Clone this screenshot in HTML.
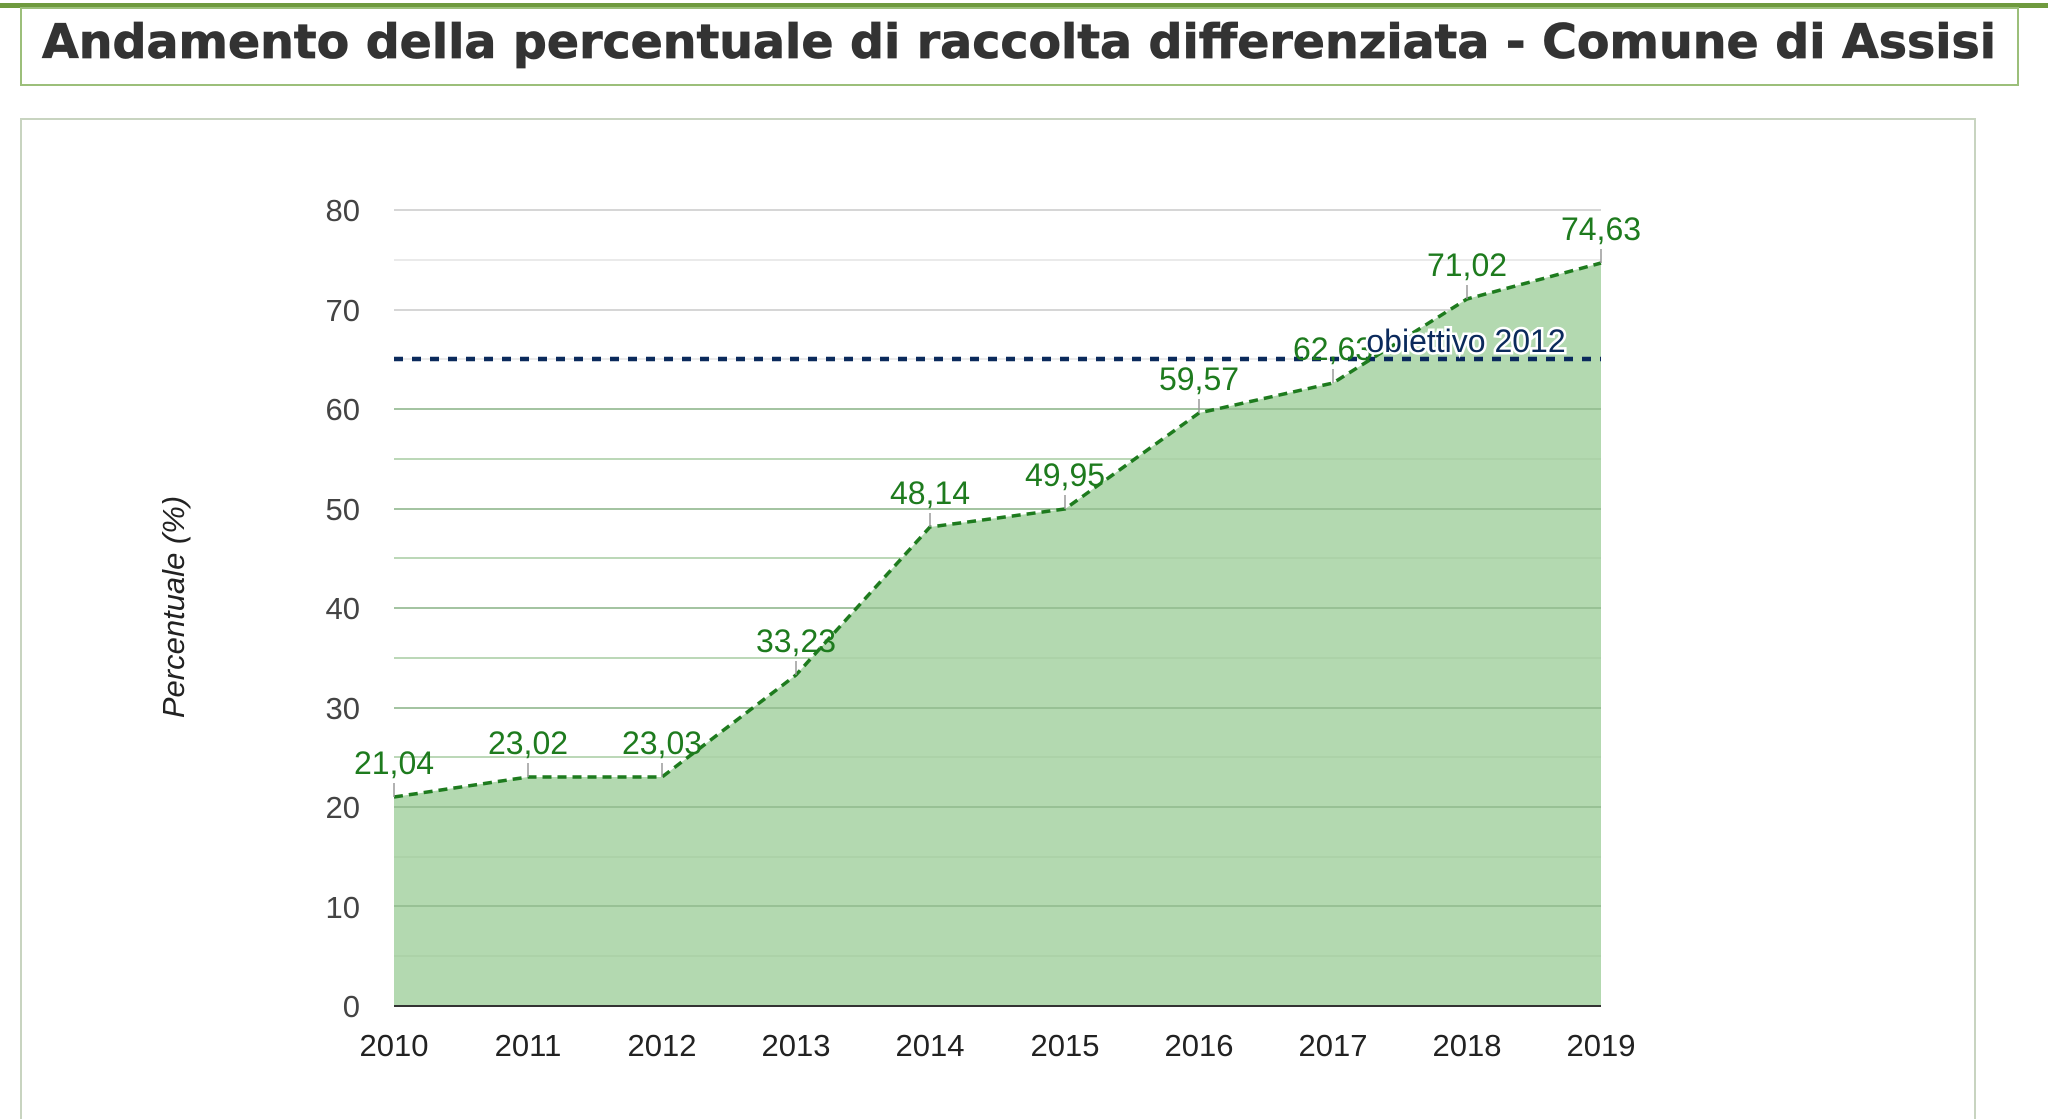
<!DOCTYPE html>
<html><head><meta charset="utf-8"><style>html,body{margin:0;padding:0;background:#fff;}svg{display:block}</style></head>
<body>
<svg width="2048" height="1119" viewBox="0 0 2048 1119" xmlns="http://www.w3.org/2000/svg">
<rect x="0" y="3" width="2048" height="5" fill="#6f9a3e"/>
<rect x="21" y="8" width="1997" height="77" fill="#fff" stroke="#9cbf7a" stroke-width="2"/>
<text x="42" y="58" font-family="DejaVu Sans, Verdana, sans-serif" font-weight="bold" font-size="47" fill="#333" stroke="#333" stroke-width="0.8" textLength="1954" lengthAdjust="spacingAndGlyphs">Andamento della percentuale di raccolta differenziata - Comune di Assisi</text>
<rect x="21" y="119" width="1954" height="1010" fill="#fff" stroke="#c8d4c0" stroke-width="2"/>
<g stroke="#e4e4e4" stroke-width="1.5">
<line x1="394" x2="1601" y1="956" y2="956"/><line x1="394" x2="1601" y1="857" y2="857"/>
<line x1="394" x2="1601" y1="757" y2="757"/><line x1="394" x2="1601" y1="658" y2="658"/>
<line x1="394" x2="1601" y1="558" y2="558"/><line x1="394" x2="1601" y1="459" y2="459"/>
<line x1="394" x2="1601" y1="359" y2="359"/><line x1="394" x2="1601" y1="260" y2="260"/>
</g>
<g stroke="#c8c8c8" stroke-width="1.5">
<line x1="394" x2="1601" y1="906" y2="906"/><line x1="394" x2="1601" y1="807" y2="807"/>
<line x1="394" x2="1601" y1="708" y2="708"/><line x1="394" x2="1601" y1="608" y2="608"/>
<line x1="394" x2="1601" y1="509" y2="509"/><line x1="394" x2="1601" y1="409" y2="409"/>
<line x1="394" x2="1601" y1="310" y2="310"/><line x1="394" x2="1601" y1="210" y2="210"/>
</g>
<polygon fill="#b3d9b0" points="394,1006 394,797 528,777 662,777 796,675 930,527 1065,509 1199,413 1333,383 1467,299 1601,263 1601,1006"/>
<g stroke="#aad0a6" stroke-width="1.5">
<line x1="394" x2="1601" y1="956" y2="956"/><line x1="394" x2="1601" y1="857" y2="857"/>
<line x1="394" x2="1601" y1="757" y2="757"/><line x1="394" x2="1601" y1="658" y2="658"/>
<line x1="394" x2="1601" y1="558" y2="558"/><line x1="394" x2="1601" y1="459" y2="459"/>
</g>
<g stroke="#8fb98c" stroke-width="1.5">
<line x1="394" x2="1601" y1="906" y2="906"/><line x1="394" x2="1601" y1="807" y2="807"/>
<line x1="394" x2="1601" y1="708" y2="708"/><line x1="394" x2="1601" y1="608" y2="608"/>
<line x1="394" x2="1601" y1="509" y2="509"/><line x1="394" x2="1601" y1="409" y2="409"/>
</g>
<line x1="394" x2="1601" y1="1006" y2="1006" stroke="#333" stroke-width="2"/>
<line x1="394" x2="1601" y1="359" y2="359" stroke="#0b2a5c" stroke-width="4.5" stroke-dasharray="9,9"/>
<polyline fill="none" stroke="#1e7b1e" stroke-width="3.5" stroke-dasharray="9,6" points="394,797 528,777 662,777 796,675 930,527 1065,509 1199,413 1333,383 1467,299 1601,263"/>
<g stroke="#999" stroke-width="1.5">
<line x1="394" x2="394" y1="797" y2="783"/><line x1="528" x2="528" y1="777" y2="763"/>
<line x1="662" x2="662" y1="777" y2="763"/><line x1="796" x2="796" y1="675" y2="661"/>
<line x1="930" x2="930" y1="527" y2="513"/><line x1="1065" x2="1065" y1="509" y2="495"/>
<line x1="1199" x2="1199" y1="413" y2="399"/><line x1="1333" x2="1333" y1="383" y2="369"/>
<line x1="1467" x2="1467" y1="299" y2="285"/><line x1="1601" x2="1601" y1="263" y2="249"/>
</g>
<g font-family="Liberation Sans, Arial, sans-serif" font-size="32" fill="#1e7b1e" text-anchor="middle">
<text x="394" y="774">21,04</text><text x="528" y="754">23,02</text>
<text x="662" y="754">23,03</text><text x="796" y="652">33,23</text>
<text x="930" y="504">48,14</text><text x="1065" y="486">49,95</text>
<text x="1199" y="390">59,57</text><text x="1333" y="360">62,63</text>
<text x="1467" y="276">71,02</text><text x="1601" y="240">74,63</text>
</g>
<text x="1466" y="352" font-family="Liberation Sans, Arial, sans-serif" font-size="32" fill="#0b2a5c" text-anchor="middle" stroke="#fff" stroke-width="5" paint-order="stroke">obiettivo 2012</text>
<g font-family="Liberation Sans, Arial, sans-serif" font-size="31" fill="#444" text-anchor="end">
<text x="360" y="1017">0</text><text x="360" y="918">10</text><text x="360" y="818">20</text>
<text x="360" y="719">30</text><text x="360" y="619">40</text><text x="360" y="520">50</text>
<text x="360" y="420">60</text><text x="360" y="321">70</text><text x="360" y="221">80</text>
</g>
<g font-family="Liberation Sans, Arial, sans-serif" font-size="31" fill="#222" text-anchor="middle">
<text x="394" y="1056">2010</text><text x="528" y="1056">2011</text><text x="662" y="1056">2012</text>
<text x="796" y="1056">2013</text><text x="930" y="1056">2014</text><text x="1065" y="1056">2015</text>
<text x="1199" y="1056">2016</text><text x="1333" y="1056">2017</text><text x="1467" y="1056">2018</text>
<text x="1601" y="1056">2019</text>
</g>
<text transform="translate(184,607) rotate(-90)" font-family="Liberation Sans, Arial, sans-serif" font-style="italic" font-size="31" fill="#222" text-anchor="middle">Percentuale (%)</text>
</svg>
</body></html>
